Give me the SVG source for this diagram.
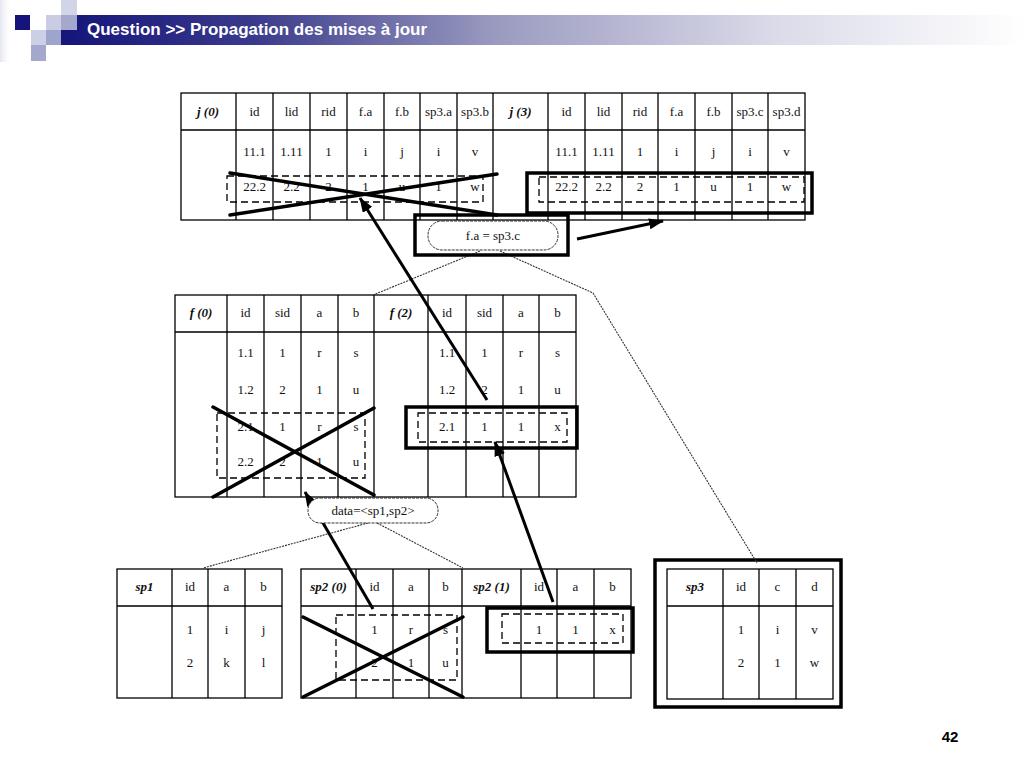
<svg xmlns="http://www.w3.org/2000/svg" width="1024" height="768" viewBox="0 0 1024 768">
<defs>
<linearGradient id="ban" x1="61" y1="0" x2="1024" y2="0" gradientUnits="userSpaceOnUse">
<stop offset="0" stop-color="#15157a"/>
<stop offset="0.2" stop-color="#3a3a8c"/>
<stop offset="0.45" stop-color="#9a9ac0"/>
<stop offset="0.75" stop-color="#dcdcea"/>
<stop offset="1" stop-color="#ffffff"/>
</linearGradient>
<linearGradient id="edge" x1="0" y1="0" x2="12" y2="0" gradientUnits="userSpaceOnUse">
<stop offset="0" stop-color="#e4e6f0"/>
<stop offset="1" stop-color="#ffffff" stop-opacity="0"/>
</linearGradient>
<marker id="ah" markerUnits="userSpaceOnUse" markerWidth="15" markerHeight="11" viewBox="0 0 15 11" refX="14" refY="5.5" orient="auto">
<path d="M0,0 L15,5.5 L0,11 z" fill="#000"/>
</marker>
<style>
.g{fill:none;stroke:#000;stroke-width:1.3}
.t{font-family:"Liberation Serif","DejaVu Serif",serif;font-size:13px;fill:#111;text-anchor:middle}
.h{font-weight:bold;font-style:italic}
.d{fill:none;stroke:#000;stroke-width:1.3;stroke-dasharray:7,4}
.hl{fill:none;stroke:#000;stroke-width:3.5}
.x{stroke:#000;stroke-width:3.5;stroke-linecap:round}
.ar{stroke:#000;stroke-width:3;fill:none}
.thin{fill:none;stroke:#333;stroke-width:1.1;stroke-dasharray:2,1}
.cl{fill:#fff;stroke:#333;stroke-width:1;stroke-dasharray:3,1}
</style>
</defs>
<rect width="1024" height="768" fill="#fff"/>
<g id="title">
<rect x="0" y="0" width="12" height="62" fill="url(#edge)"/>
<rect x="61" y="15" width="963" height="30" fill="url(#ban)"/>
<rect x="15" y="15" width="15" height="15" fill="#14147a"/>
<rect x="46" y="15" width="15" height="15" fill="#c9cce2"/>
<rect x="61" y="15" width="16" height="15" fill="#a3a8cc"/>
<rect x="61" y="0" width="16" height="15" fill="#d2d5e8"/>
<rect x="31" y="30" width="15" height="15" fill="#ccd0e4"/>
<rect x="46" y="30" width="15" height="15" fill="#9ea5cb"/>
<rect x="31" y="45" width="15" height="16" fill="#a3a8cc"/>
<text x="87" y="35" font-family="Liberation Sans, Arial, sans-serif" font-size="17" font-weight="bold" fill="#fff">Question &gt;&gt; Propagation des mises à jour</text>
</g>
<g id="table-j">
<rect class="g" x="181" y="93" width="624" height="127"/>
<path class="g" d="M181,130H805 M236,93V220 M273,93V220 M310,93V220 M347,93V220 M384,93V220 M420,93V220 M457,93V220 M493,93V220 M548,93V220 M585,93V220 M622,93V220 M658,93V220 M695,93V220 M732,93V220 M768,93V220"/>
<text class="t h" x="208" y="116">j (0)</text>
<text class="t" x="254.5" y="116">id</text><text class="t" x="291.5" y="116">lid</text><text class="t" x="328.5" y="116">rid</text><text class="t" x="365.5" y="116">f.a</text><text class="t" x="402" y="116">f.b</text><text class="t" x="438.5" y="116">sp3.a</text><text class="t" x="475" y="116">sp3.b</text>
<text class="t h" x="520.5" y="116">j (3)</text>
<text class="t" x="566.5" y="116">id</text><text class="t" x="603.5" y="116">lid</text><text class="t" x="640" y="116">rid</text><text class="t" x="676.5" y="116">f.a</text><text class="t" x="713.5" y="116">f.b</text><text class="t" x="750" y="116">sp3.c</text><text class="t" x="786.5" y="116">sp3.d</text>
<text class="t" x="254.5" y="156">11.1</text><text class="t" x="291.5" y="156">1.11</text><text class="t" x="328.5" y="156">1</text><text class="t" x="365.5" y="156">i</text><text class="t" x="402" y="156">j</text><text class="t" x="438.5" y="156">i</text><text class="t" x="475" y="156">v</text>
<text class="t" x="254.5" y="191">22.2</text><text class="t" x="291.5" y="191">2.2</text><text class="t" x="328.5" y="191">2</text><text class="t" x="365.5" y="191">1</text><text class="t" x="402" y="191">u</text><text class="t" x="438.5" y="191">1</text><text class="t" x="475" y="191">w</text>
<text class="t" x="566.5" y="156">11.1</text><text class="t" x="603.5" y="156">1.11</text><text class="t" x="640" y="156">1</text><text class="t" x="676.5" y="156">i</text><text class="t" x="713.5" y="156">j</text><text class="t" x="750" y="156">i</text><text class="t" x="786.5" y="156">v</text>
<text class="t" x="566.5" y="191">22.2</text><text class="t" x="603.5" y="191">2.2</text><text class="t" x="640" y="191">2</text><text class="t" x="676.5" y="191">1</text><text class="t" x="713.5" y="191">u</text><text class="t" x="750" y="191">1</text><text class="t" x="786.5" y="191">w</text>
<rect class="d" x="227" y="176" width="256" height="26"/>
<rect class="d" x="539" y="177" width="265" height="25"/>
<line class="x" x1="230" y1="173" x2="497" y2="215"/>
<line class="x" x1="230" y1="215" x2="497" y2="174"/>
<rect class="hl" x="527" y="173" width="285" height="40"/>
</g>
<g id="table-f">
<rect class="g" x="175" y="295" width="401" height="202"/>
<path class="g" d="M175,332H576 M227,295V497 M264,295V497 M301,295V497 M338,295V497 M374,295V497 M428,295V497 M466,295V497 M503,295V497 M539,295V497"/>
<text class="t h" x="201" y="317">f (0)</text>
<text class="t" x="245.5" y="317">id</text><text class="t" x="282.5" y="317">sid</text><text class="t" x="319.5" y="317">a</text><text class="t" x="356" y="317">b</text>
<text class="t h" x="401" y="317">f (2)</text>
<text class="t" x="447" y="317">id</text><text class="t" x="484.5" y="317">sid</text><text class="t" x="521" y="317">a</text><text class="t" x="557.5" y="317">b</text>
<text class="t" x="245.5" y="357">1.1</text><text class="t" x="282.5" y="357">1</text><text class="t" x="319.5" y="357">r</text><text class="t" x="356" y="357">s</text>
<text class="t" x="245.5" y="394">1.2</text><text class="t" x="282.5" y="394">2</text><text class="t" x="319.5" y="394">1</text><text class="t" x="356" y="394">u</text>
<text class="t" x="245.5" y="431">2.1</text><text class="t" x="282.5" y="431">1</text><text class="t" x="319.5" y="431">r</text><text class="t" x="356" y="431">s</text>
<text class="t" x="245.5" y="466">2.2</text><text class="t" x="282.5" y="466">2</text><text class="t" x="319.5" y="466">1</text><text class="t" x="356" y="466">u</text>
<text class="t" x="447" y="357">1.1</text><text class="t" x="484.5" y="357">1</text><text class="t" x="521" y="357">r</text><text class="t" x="557.5" y="357">s</text>
<text class="t" x="447" y="394">1.2</text><text class="t" x="484.5" y="394">2</text><text class="t" x="521" y="394">1</text><text class="t" x="557.5" y="394">u</text>
<text class="t" x="447" y="431">2.1</text><text class="t" x="484.5" y="431">1</text><text class="t" x="521" y="431">1</text><text class="t" x="557.5" y="431">x</text>
<rect class="d" x="217" y="413" width="148" height="65"/>
<rect class="d" x="418" y="413" width="149" height="29"/>
<line class="x" x1="213" y1="407" x2="374" y2="495"/>
<line class="x" x1="213" y1="497" x2="374" y2="408"/>
<rect class="hl" x="406" y="407" width="171" height="41"/>
</g>
<g id="table-sp1">
<rect class="g" x="117" y="569" width="165" height="129"/>
<path class="g" d="M117,606H282 M172,569V698 M208,569V698 M245,569V698"/>
<text class="t h" x="144.5" y="591">sp1</text>
<text class="t" x="190" y="591">id</text><text class="t" x="226.5" y="591">a</text><text class="t" x="263.5" y="591">b</text>
<text class="t" x="190" y="634">1</text><text class="t" x="226.5" y="634">i</text><text class="t" x="263.5" y="634">j</text>
<text class="t" x="190" y="667">2</text><text class="t" x="226.5" y="667">k</text><text class="t" x="263.5" y="667">l</text>
</g>
<g id="table-sp2">
<rect class="g" x="301" y="569" width="330" height="129"/>
<path class="g" d="M301,606H631 M356,569V698 M393,569V698 M429,569V698 M462,569V698 M521,569V698 M557,569V698 M594,569V698"/>
<text class="t h" x="328.5" y="591">sp2 (0)</text>
<text class="t" x="374.5" y="591">id</text><text class="t" x="411" y="591">a</text><text class="t" x="445.5" y="591">b</text>
<text class="t h" x="491.5" y="591">sp2 (1)</text>
<text class="t" x="539" y="591">id</text><text class="t" x="575.5" y="591">a</text><text class="t" x="612.5" y="591">b</text>
<text class="t" x="374.5" y="634">1</text><text class="t" x="411" y="634">r</text><text class="t" x="445.5" y="634">s</text>
<text class="t" x="374.5" y="667">2</text><text class="t" x="411" y="667">1</text><text class="t" x="445.5" y="667">u</text>
<text class="t" x="539" y="634">1</text><text class="t" x="575.5" y="634">1</text><text class="t" x="612.5" y="634">x</text>
<rect class="d" x="336" y="615" width="121" height="65"/>
<rect class="d" x="502" y="614" width="121" height="29"/>
<line class="x" x1="303" y1="617" x2="463" y2="697"/>
<line class="x" x1="303" y1="697" x2="463" y2="617"/>
<rect class="hl" x="487" y="608" width="146" height="44"/>
</g>
<g id="table-sp3">
<rect class="hl" x="655" y="560" width="186" height="147"/>
<rect class="g" x="667" y="569" width="166" height="130"/>
<path class="g" d="M667,606H833 M723,569V699 M759,569V699 M796,569V699"/>
<text class="t h" x="695" y="591">sp3</text>
<text class="t" x="741" y="591">id</text><text class="t" x="777.5" y="591">c</text><text class="t" x="814.5" y="591">d</text>
<text class="t" x="741" y="634">1</text><text class="t" x="777.5" y="634">i</text><text class="t" x="814.5" y="634">v</text>
<text class="t" x="741" y="667">2</text><text class="t" x="777.5" y="667">1</text><text class="t" x="814.5" y="667">w</text>
</g>
<g id="connectors">
<path class="thin" d="M480,251 L373,295"/>
<path class="thin" d="M500,251 L593,293 L757,563"/>
<path class="thin" d="M368,523 L203,568"/>
<path class="thin" d="M377,523 L463,568"/>
<line class="ar" x1="487" y1="400" x2="360" y2="198" marker-end="url(#ah)"/>
<line class="ar" x1="553" y1="602" x2="495" y2="442" marker-end="url(#ah)"/>
<line class="ar" x1="373" y1="609" x2="305" y2="492" marker-end="url(#ah)"/>
<line class="ar" x1="577" y1="239" x2="663" y2="221" marker-end="url(#ah)"/>
</g>
<g id="callout-fa">
<rect class="hl" x="415" y="215" width="153" height="40"/>
<rect class="cl" x="428" y="221" width="130" height="29" rx="14"/>
<text class="t" x="493" y="240">f.a = sp3.c</text>
</g>
<g id="callout-data">
<rect class="cl" x="308" y="498" width="130" height="25" rx="12"/>
<text class="t" x="373" y="515">data=&lt;sp1,sp2&gt;</text>
</g>
<g id="page">
<text x="950" y="742" font-family="Liberation Sans, Arial, sans-serif" font-size="15" font-weight="bold" fill="#000" text-anchor="middle">42</text>
</g>
</svg>
